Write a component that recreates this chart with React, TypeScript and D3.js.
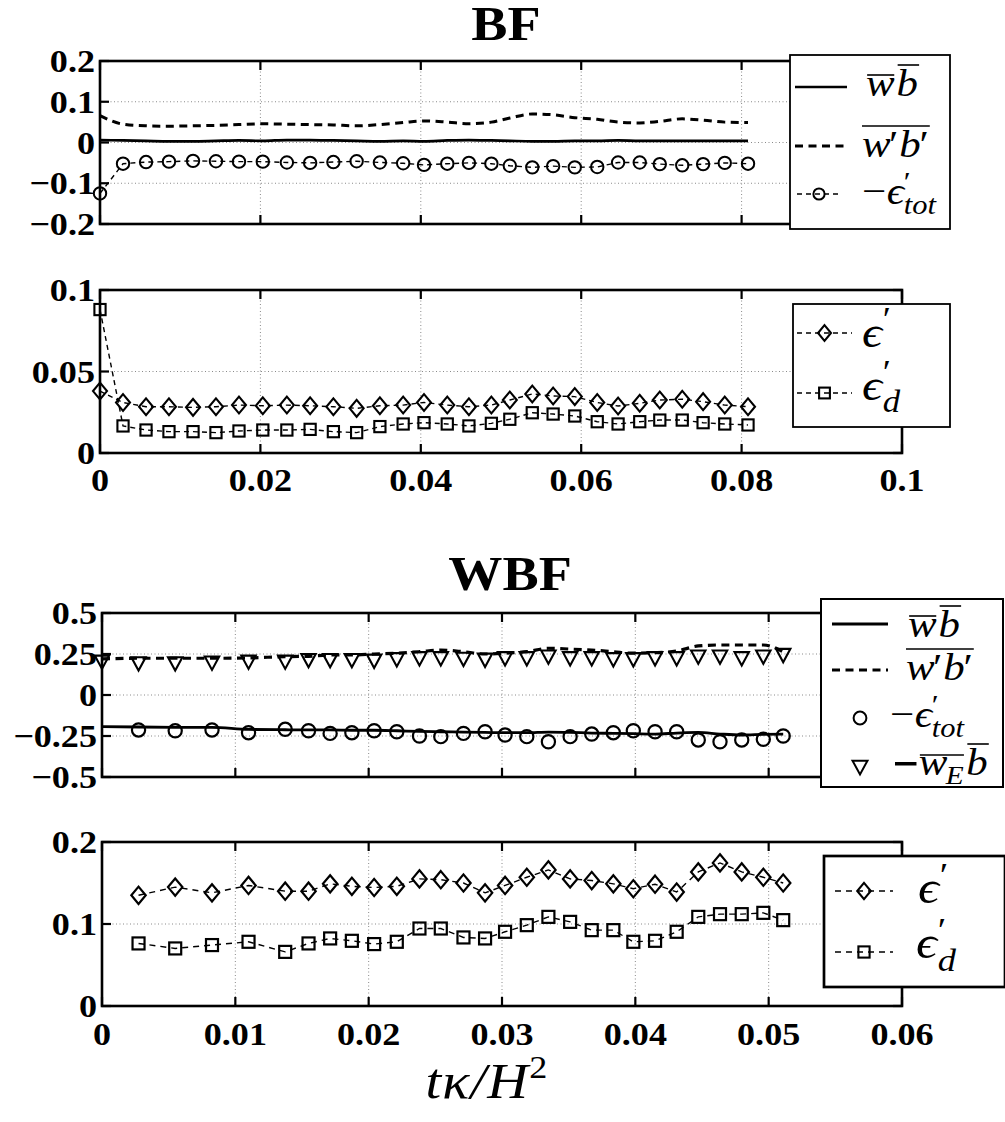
import React from 'react';
import * as d3 from 'd3';

const SERIF = '"Liberation Serif", "Times New Roman", Times, serif';
const MATHF = '"Liberation Serif", "DejaVu Serif", serif';
const SX = 1.13;

// ---------------- BF data ----------------
const bfTime = [0, 0.00287, 0.00574, 0.0086, 0.0116, 0.01446, 0.01733, 0.0203, 0.0233, 0.0262, 0.0291, 0.032, 0.0349, 0.0378, 0.0404, 0.0433, 0.046, 0.0488, 0.0511, 0.0539, 0.0565, 0.0592, 0.062, 0.0646, 0.0673, 0.0698, 0.0726, 0.0752, 0.0779, 0.0808];
const bfWB = [0.006, 0.005, 0.004, 0.003, 0.003, 0.004, 0.005, 0.004, 0.006, 0.006, 0.005, 0.004, 0.003, 0.004, 0.003, 0.005, 0.006, 0.005, 0.004, 0.003, 0.003, 0.004, 0.004, 0.005, 0.004, 0.004, 0.004, 0.004, 0.004, 0.004];
const bfWpBp = [0.066, 0.045, 0.041, 0.04, 0.041, 0.042, 0.044, 0.046, 0.045, 0.044, 0.043, 0.041, 0.044, 0.049, 0.053, 0.05, 0.046, 0.05, 0.06, 0.07, 0.068, 0.061, 0.057, 0.05, 0.048, 0.052, 0.058, 0.055, 0.05, 0.049];
const bfEpsTot = [-0.125, -0.052, -0.048, -0.047, -0.045, -0.046, -0.047, -0.047, -0.049, -0.05, -0.048, -0.046, -0.049, -0.051, -0.055, -0.052, -0.05, -0.052, -0.057, -0.061, -0.058, -0.061, -0.06, -0.049, -0.049, -0.053, -0.056, -0.053, -0.05, -0.052];
const bfEps = [0.038, 0.031, 0.0284, 0.0284, 0.028, 0.0284, 0.0294, 0.029, 0.0294, 0.029, 0.0284, 0.0274, 0.029, 0.0294, 0.031, 0.0294, 0.0284, 0.0294, 0.0325, 0.0362, 0.035, 0.0346, 0.031, 0.0288, 0.0305, 0.0325, 0.033, 0.0315, 0.0294, 0.0284];
const bfEpsD = [0.088, 0.0166, 0.0141, 0.0131, 0.0131, 0.0125, 0.0135, 0.0141, 0.0141, 0.0145, 0.0131, 0.0125, 0.0162, 0.0178, 0.0186, 0.0178, 0.0166, 0.0182, 0.0207, 0.0247, 0.0239, 0.0227, 0.0192, 0.0178, 0.0192, 0.0202, 0.0202, 0.0186, 0.0178, 0.0172];

const bfXTicks = [0, 0.02, 0.04, 0.06, 0.08, 0.1];
const bfXTickLabels = ['0', '0.02', '0.04', '0.06', '0.08', '0.1'];
const bfTopYTicks = [-0.2, -0.1, 0, 0.1, 0.2];
const bfTopYTickLabels = ['\u22120.2', '\u22120.1', '0', '0.1', '0.2'];
const bfBotYTicks = [0, 0.05, 0.1];
const bfBotYTickLabels = ['0', '0.05', '0.1'];

// ---------------- WBF data ----------------
const wbfTime = [0, 0.00274, 0.00549, 0.00825, 0.01099, 0.01374, 0.01549, 0.01711, 0.01874, 0.02041, 0.02211, 0.02381, 0.02541, 0.02711, 0.02873, 0.03023, 0.03186, 0.03348, 0.03511, 0.03673, 0.03835, 0.03985, 0.04148, 0.0431, 0.04472, 0.04635, 0.04798, 0.0496, 0.05109];
const wbfWB = [-0.193, -0.195, -0.197, -0.197, -0.21, -0.212, -0.213, -0.213, -0.215, -0.215, -0.218, -0.222, -0.224, -0.226, -0.228, -0.23, -0.23, -0.226, -0.228, -0.232, -0.234, -0.236, -0.238, -0.232, -0.228, -0.238, -0.244, -0.24, -0.238];
const wbfWpBp = [0.22, 0.224, 0.224, 0.224, 0.226, 0.234, 0.236, 0.244, 0.244, 0.25, 0.255, 0.264, 0.274, 0.264, 0.25, 0.255, 0.264, 0.285, 0.28, 0.274, 0.264, 0.255, 0.258, 0.268, 0.299, 0.305, 0.305, 0.305, 0.264];
const wbfWEb = [0.203, 0.193, 0.193, 0.197, 0.203, 0.203, 0.213, 0.213, 0.213, 0.209, 0.218, 0.224, 0.224, 0.22, 0.215, 0.224, 0.224, 0.234, 0.224, 0.224, 0.218, 0.218, 0.224, 0.224, 0.234, 0.234, 0.224, 0.234, 0.244];
const wbfEpsTot = [-0.213, -0.218, -0.213, -0.23, -0.209, -0.218, -0.234, -0.23, -0.218, -0.224, -0.25, -0.254, -0.234, -0.224, -0.244, -0.254, -0.285, -0.254, -0.238, -0.23, -0.218, -0.224, -0.224, -0.274, -0.285, -0.274, -0.27, -0.25];
const wbfEps = [0.135, 0.145, 0.138, 0.147, 0.14, 0.14, 0.149, 0.146, 0.1445, 0.146, 0.155, 0.154, 0.15, 0.138, 0.147, 0.157, 0.166, 0.155, 0.153, 0.149, 0.143, 0.1485, 0.139, 0.1635, 0.1745, 0.1635, 0.157, 0.15];
const wbfEpsD = [0.0763, 0.0702, 0.0743, 0.0783, 0.066, 0.0763, 0.0824, 0.0795, 0.0755, 0.0783, 0.0945, 0.0945, 0.0836, 0.0824, 0.0905, 0.0986, 0.1087, 0.1026, 0.0925, 0.0925, 0.0783, 0.0795, 0.0905, 0.1087, 0.112, 0.112, 0.1136, 0.1047];

const wbfXTicks = [0, 0.01, 0.02, 0.03, 0.04, 0.05, 0.06];
const wbfXTickLabels = ['0', '0.01', '0.02', '0.03', '0.04', '0.05', '0.06'];
const wbfTopYTicks = [-0.5, -0.25, 0, 0.25, 0.5];
const wbfTopYTickLabels = ['\u22120.5', '\u22120.25', '0', '0.25', '0.5'];
const wbfBotYTicks = [0, 0.1, 0.2];
const wbfBotYTickLabels = ['0', '0.1', '0.2'];

type MarkerType = 'circle' | 'diamond' | 'square' | 'triangle';
interface Series {
  xs: number[];
  ys: number[];
  line?: { w: number; dash?: string; smooth?: boolean };
  marker?: MarkerType;
  ms?: number;
  mw?: number;
}

function Marker({ type, cx, cy, s, w }: { type: MarkerType; cx: number; cy: number; s: number; w: number }) {
  const common = { fill: 'none', stroke: '#000', strokeWidth: w };
  if (type === 'circle') return <circle cx={cx} cy={cy} r={s} {...common} />;
  if (type === 'square') return <rect x={cx - s} y={cy - s} width={2 * s} height={2 * s} {...common} />;
  if (type === 'diamond')
    return <path d={`M${cx},${cy - s * 1.2} L${cx + s},${cy} L${cx},${cy + s * 1.2} L${cx - s},${cy} Z`} {...common} />;
  return <path d={`M${cx - s},${cy - s * 0.85} L${cx + s},${cy - s * 0.85} L${cx},${cy + s} Z`} {...common} strokeLinejoin="miter" />;
}

function T({ x, y, size, anchor, bold, italic, children }: any) {
  return (
    <g transform={`translate(${x},${y}) scale(${SX},1)`}>
      <text
        x={0}
        y={0}
        fontFamily={SERIF}
        fontSize={size}
        fontWeight={bold ? 'bold' : 'normal'}
        fontStyle={italic ? 'italic' : 'normal'}
        textAnchor={anchor || 'start'}
        fill="#000"
      >
        {children}
      </text>
    </g>
  );
}

interface PanelCfg {
  left: number; right: number; top: number; bottom: number;
  xDomain: [number, number]; yDomain: [number, number];
  xTicks: number[]; xTickLabels: string[] | null;
  yTicks: number[]; yTickLabels: string[];
  series: Series[];
  yLabelRight: number;
  xLabelBaseline?: number;
}

function Panel({ cfg }: { cfg: PanelCfg }) {
  const x = d3.scaleLinear().domain(cfg.xDomain).range([cfg.left, cfg.right]);
  const y = d3.scaleLinear().domain(cfg.yDomain).range([cfg.bottom, cfg.top]);
  const tl = 9;
  const gridX = cfg.xTicks.filter((t) => t > cfg.xDomain[0] && t < cfg.xDomain[1]);
  const gridY = cfg.yTicks.filter((t) => t > cfg.yDomain[0] && t < cfg.yDomain[1]);
  return (
    <g>
      <rect x={cfg.left} y={cfg.top} width={cfg.right - cfg.left} height={cfg.bottom - cfg.top} fill="#fff" />
      {gridX.map((t, i) => (
        <line key={'gx' + i} x1={x(t)} x2={x(t)} y1={cfg.top} y2={cfg.bottom} stroke="#8a8a8a" strokeWidth={1} strokeDasharray="1 2.5" />
      ))}
      {gridY.map((t, i) => (
        <line key={'gy' + i} x1={cfg.left} x2={cfg.right} y1={y(t)} y2={y(t)} stroke="#8a8a8a" strokeWidth={1} strokeDasharray="1 2.5" />
      ))}
      <rect x={cfg.left} y={cfg.top} width={cfg.right - cfg.left} height={cfg.bottom - cfg.top} fill="none" stroke="#000" strokeWidth={2.6} />
      {cfg.xTicks.map((t, i) => (
        <g key={'tx' + i}>
          <line x1={x(t)} x2={x(t)} y1={cfg.bottom} y2={cfg.bottom - tl} stroke="#000" strokeWidth={2.2} />
          <line x1={x(t)} x2={x(t)} y1={cfg.top} y2={cfg.top + tl} stroke="#000" strokeWidth={2.2} />
        </g>
      ))}
      {cfg.yTicks.map((t, i) => (
        <g key={'ty' + i}>
          <line x1={cfg.left} x2={cfg.left + tl} y1={y(t)} y2={y(t)} stroke="#000" strokeWidth={2.2} />
          <line x1={cfg.right} x2={cfg.right - tl} y1={y(t)} y2={y(t)} stroke="#000" strokeWidth={2.2} />
        </g>
      ))}
      {cfg.series.map((s, si) => {
        if (!s.line) return null;
        const gen = d3
          .line<number>()
          .x((_, i) => x(s.xs[i]))
          .y((d) => y(d))
          .curve(s.line.smooth ? d3.curveMonotoneX : d3.curveLinear);
        return (
          <path key={'l' + si} d={gen(s.ys) || ''} fill="none" stroke="#000" strokeWidth={s.line.w} strokeDasharray={s.line.dash} />
        );
      })}
      {cfg.series.map((s, si) =>
        s.marker
          ? s.ys.map((v, i) => (
              <Marker key={'m' + si + '_' + i} type={s.marker as MarkerType} cx={x(s.xs[i])} cy={y(v)} s={s.ms || 5} w={s.mw || 1.8} />
            ))
          : null
      )}
      {cfg.yTicks.map((t, i) => (
        <T key={'yl' + i} x={cfg.yLabelRight} y={y(t) + 11} size={32} bold anchor="end">
          {cfg.yTickLabels[i]}
        </T>
      ))}
      {cfg.xTickLabels &&
        cfg.xTicks.map((t, i) => (
          <T key={'xl' + i} x={x(t)} y={cfg.xLabelBaseline} size={32} bold anchor="middle">
            {(cfg.xTickLabels as string[])[i]}
          </T>
        ))}
    </g>
  );
}

const OL = ({ x1, x2, y, w }: any) => <line x1={x1} x2={x2} y1={y} y2={y} stroke="#000" strokeWidth={w || 1.6} />;

function MathG({ x, y, children }: any) {
  return <g transform={`translate(${x},${y}) scale(${SX},1)`}>{children}</g>;
}
const MT = ({ children }: any) => (
  <text fontFamily={MATHF} fill="#000">
    {children}
  </text>
);
const ts = (x: number, y: number, size: number, italic: boolean, s: string, key: string) => (
  <tspan key={key} x={x} y={y} fontSize={size} fontStyle={italic ? 'italic' : 'normal'}>
    {s}
  </tspan>
);

function LabelWB({ x, y }: any) {
  return (
    <MathG x={x} y={y}>
      <MT>
        {ts(0, 0, 38, true, 'w', 'a')}
        {ts(27, 0, 38, true, 'b', 'b')}
      </MT>
      <OL x1={1} x2={25} y={-21} />
      <OL x1={28} x2={47} y={-31} />
    </MathG>
  );
}
function LabelWpBp({ x, y }: any) {
  return (
    <MathG x={x} y={y}>
      <MT>
        {ts(0, 0, 38, true, 'w', 'a')}
        {ts(24, 0, 38, false, '\u2032', 'b')}
        {ts(33, 0, 38, true, 'b', 'c')}
        {ts(51, 0, 38, false, '\u2032', 'd')}
      </MT>
      <OL x1={0} x2={60} y={-31} />
    </MathG>
  );
}
function LabelEpsTot({ x, y }: any) {
  return (
    <MathG x={x} y={y}>
      <MT>
        {ts(0, 0, 38, false, '\u2212', 'a')}
        {ts(22, 0, 38, true, '\u03f5', 'b')}
        {ts(37, -13, 28, false, '\u2032', 'c')}
        {ts(37, 10, 27, true, 'tot', 'd')}
      </MT>
    </MathG>
  );
}
function LabelWEb({ x, y }: any) {
  return (
    <MathG x={x} y={y}>
      <rect x={0} y={-13} width={19} height={3.5} fill="#000" />
      <MT>
        {ts(21, 0, 38, true, 'w', 'a')}
        {ts(45, 9, 26, true, 'E', 'b')}
        {ts(63, 0, 38, true, 'b', 'c')}
      </MT>
      <OL x1={22} x2={61} y={-20} />
      <OL x1={64} x2={83} y={-31} />
    </MathG>
  );
}
function LabelEps({ x, y, size }: any) {
  return (
    <MathG x={x} y={y}>
      <MT>
        {ts(0, 0, size, true, '\u03f5', 'a')}
        {ts(size * 0.42, -size * 0.38, size * 0.75, false, '\u2032', 'b')}
      </MT>
    </MathG>
  );
}
function LabelEpsD({ x, y, size }: any) {
  return (
    <MathG x={x} y={y}>
      <MT>
        {ts(0, 0, size, true, '\u03f5', 'a')}
        {ts(size * 0.42, -size * 0.38, size * 0.75, false, '\u2032', 'b')}
        {ts(size * 0.42, size * 0.28, size * 0.7, true, 'd', 'c')}
      </MT>
    </MathG>
  );
}

function Sample({ x1, x2, y, line, marker, ms, mw }: any) {
  return (
    <g>
      {line && <line x1={x1} x2={x2} y1={y} y2={y} stroke="#000" strokeWidth={line.w} strokeDasharray={line.dash} />}
      {marker && <Marker type={marker} cx={(x1 + x2) / 2} cy={y} s={ms || 5} w={mw || 1.8} />}
    </g>
  );
}

export default function App() {
  const bfTop: PanelCfg = {
    left: 100, right: 902, top: 61, bottom: 224,
    xDomain: [0, 0.1], yDomain: [-0.2, 0.2],
    xTicks: bfXTicks, xTickLabels: null,
    yTicks: bfTopYTicks, yTickLabels: bfTopYTickLabels,
    yLabelRight: 95,
    series: [
      { xs: bfTime, ys: bfWB, line: { w: 2.7, smooth: true } },
      { xs: bfTime, ys: bfWpBp, line: { w: 3, dash: '8 5.5', smooth: true } },
      { xs: bfTime, ys: bfEpsTot, line: { w: 1.4, dash: '5 4' }, marker: 'circle', ms: 6.2, mw: 2 },
    ],
  };
  const bfBot: PanelCfg = {
    left: 100, right: 902, top: 290, bottom: 453,
    xDomain: [0, 0.1], yDomain: [0, 0.1],
    xTicks: bfXTicks, xTickLabels: bfXTickLabels, xLabelBaseline: 491,
    yTicks: bfBotYTicks, yTickLabels: bfBotYTickLabels,
    yLabelRight: 95,
    series: [
      { xs: bfTime, ys: bfEps, line: { w: 1.4, dash: '5 4' }, marker: 'diamond', ms: 7, mw: 2.1 },
      { xs: bfTime, ys: bfEpsD, line: { w: 1.4, dash: '5 4' }, marker: 'square', ms: 5.6, mw: 2.1 },
    ],
  };
  const wbfTop: PanelCfg = {
    left: 102, right: 902, top: 613, bottom: 777,
    xDomain: [0, 0.06], yDomain: [-0.5, 0.5],
    xTicks: wbfXTicks, xTickLabels: null,
    yTicks: wbfTopYTicks, yTickLabels: wbfTopYTickLabels,
    yLabelRight: 97,
    series: [
      { xs: wbfTime, ys: wbfWB, line: { w: 2.8, smooth: true } },
      { xs: wbfTime, ys: wbfWpBp, line: { w: 3.2, dash: '8 5.5', smooth: true } },
      { xs: wbfTime.slice(1), ys: wbfEpsTot, marker: 'circle', ms: 6.6, mw: 2.2 },
      { xs: wbfTime, ys: wbfWEb, marker: 'triangle', ms: 7.2, mw: 2.1 },
    ],
  };
  const wbfBot: PanelCfg = {
    left: 102, right: 902, top: 842, bottom: 1006,
    xDomain: [0, 0.06], yDomain: [0, 0.2],
    xTicks: wbfXTicks, xTickLabels: wbfXTickLabels, xLabelBaseline: 1045,
    yTicks: wbfBotYTicks, yTickLabels: wbfBotYTickLabels,
    yLabelRight: 97,
    series: [
      { xs: wbfTime.slice(1), ys: wbfEps, line: { w: 1.4, dash: '6 5' }, marker: 'diamond', ms: 7.2, mw: 2.2 },
      { xs: wbfTime.slice(1), ys: wbfEpsD, line: { w: 1.4, dash: '6 5' }, marker: 'square', ms: 6, mw: 2.2 },
    ],
  };

  return (
    <svg width={1005} height={1122} style={{ position: 'absolute', left: 0, top: 0, background: '#fff' }}>
      <rect x={0} y={0} width={1005} height={1122} fill="#fff" />
      <T x={506} y={40} size={48} bold anchor="middle">BF</T>
      <Panel cfg={bfTop} />
      <Panel cfg={bfBot} />

      {/* BF top legend */}
      <rect x={790} y={55} width={160} height={174} fill="#fff" stroke="#000" strokeWidth={1.8} />
      <Sample x1={795} x2={847} y={87} line={{ w: 2.7 }} />
      <LabelWB x={866} y={96} />
      <Sample x1={795} x2={847} y={146} line={{ w: 3, dash: '8 5.5' }} />
      <LabelWpBp x={862} y={157} />
      <Sample x1={797} x2={841} y={194} line={{ w: 1.4, dash: '5 4' }} marker="circle" ms={5.6} mw={2} />
      <LabelEpsTot x={862} y={204} />

      {/* BF bottom legend */}
      <rect x={793} y={304} width={157} height={123} fill="#fff" stroke="#000" strokeWidth={1.8} />
      <Sample x1={797} x2={852} y={333} line={{ w: 1.4, dash: '5 4' }} marker="diamond" ms={6.5} mw={2.1} />
      <LabelEps x={862} y={347} size={44} />
      <Sample x1={797} x2={852} y={393} line={{ w: 1.4, dash: '5 4' }} marker="square" ms={5.4} mw={2.1} />
      <LabelEpsD x={862} y={400} size={44} />

      <T x={510} y={590} size={48} bold anchor="middle">WBF</T>
      <Panel cfg={wbfTop} />
      <Panel cfg={wbfBot} />

      {/* WBF top legend */}
      <rect x={821} y={599} width={182} height={188} fill="#fff" stroke="#000" strokeWidth={2} />
      <Sample x1={832} x2={888} y={624} line={{ w: 2.8 }} />
      <LabelWB x={908} y={637} />
      <Sample x1={832} x2={888} y={670} line={{ w: 3.2, dash: '8 5.5' }} />
      <LabelWpBp x={906} y={680} />
      <Sample x1={850} x2={870} y={718} marker="circle" ms={6.4} mw={2} />
      <LabelEpsTot x={890} y={727} />
      <Sample x1={850} x2={870} y={767} marker="triangle" ms={7.5} mw={2} />
      <LabelWEb x={895} y={775} />

      {/* WBF bottom legend */}
      <rect x={824} y={856} width={181} height={131} fill="#fff" stroke="#000" strokeWidth={2.7} />
      <Sample x1={835} x2={893} y={891} line={{ w: 1.4, dash: '6 5' }} marker="diamond" ms={6.8} mw={2.1} />
      <LabelEps x={918} y={903} size={46} />
      <Sample x1={835} x2={893} y={952} line={{ w: 1.4, dash: '6 5' }} marker="square" ms={5.6} mw={2.1} />
      <LabelEpsD x={916} y={958} size={46} />

      {/* x-axis label */}
      <g transform={`translate(487,1098) scale(${SX},1)`}>
        <text x={0} y={0} fontFamily={MATHF} fontStyle="italic" fontSize={50} textAnchor="middle" fill="#000" letterSpacing={1}>
          {'t\u03ba/H'}
          <tspan dy={-20} fontSize={32} fontStyle="normal">2</tspan>
        </text>
      </g>
    </svg>
  );
}
